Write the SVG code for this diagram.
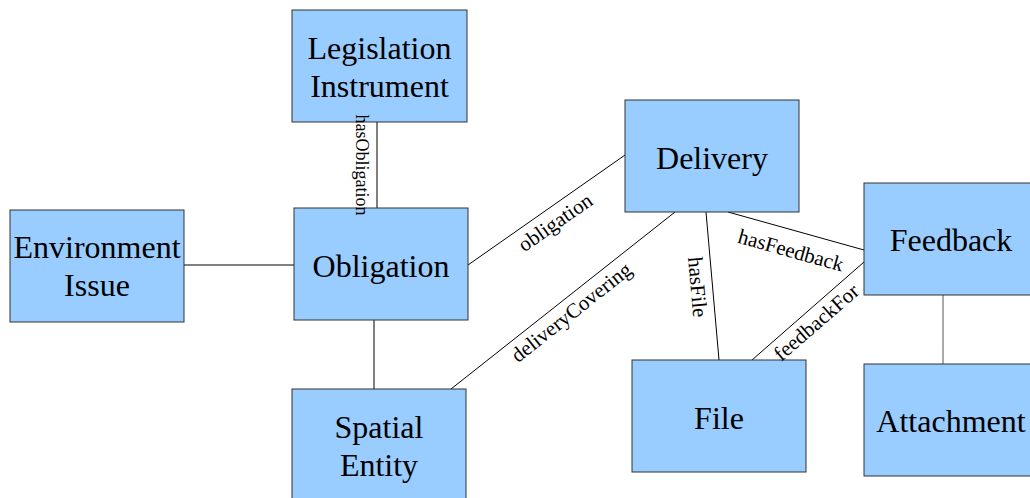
<svg xmlns="http://www.w3.org/2000/svg" width="1030" height="498" viewBox="0 0 1030 498">
<style>
.node rect{fill:#99ccff;stroke:#333;stroke-width:1}
.node text{font-family:"Liberation Serif",serif;font-size:32px;fill:#000;text-anchor:middle}
.edges line{stroke:#000;stroke-width:1}
.lbl{font-family:"Liberation Serif",serif;font-size:21px;fill:#000;text-anchor:middle}
</style>
<rect width="1030" height="498" fill="#fff"/>
<g id="connectors" class="edges">
<line x1="377" y1="122" x2="377" y2="208"/>
<line x1="184" y1="265" x2="294" y2="265"/>
<line x1="374" y1="320" x2="374" y2="389"/>
<line x1="468" y1="265" x2="625" y2="155"/>
<line x1="675" y1="212" x2="451" y2="389"/>
<line x1="706" y1="212" x2="719" y2="360"/>
<line x1="728" y1="212" x2="864" y2="250"/>
<line x1="752" y1="360" x2="864" y2="262"/>
<line x1="943" y1="295" x2="943" y2="364" style="stroke:#555"/>
</g>
<g id="legislation" class="node"><rect x="292" y="10" width="175" height="112"/><text x="379.5" y="59">Legislation</text><text x="379.5" y="97">Instrument</text></g>
<g id="obligation" class="node"><rect x="294" y="208" width="174" height="112"/><text x="381" y="277">Obligation</text></g>
<g id="environment" class="node"><rect x="10" y="210" width="174" height="112"/><text x="97" y="258">Environment</text><text x="97" y="296">Issue</text></g>
<g id="spatial" class="node"><rect x="292" y="389" width="174" height="112"/><text x="379" y="438">Spatial</text><text x="379" y="476">Entity</text></g>
<g id="delivery" class="node"><rect x="625" y="100" width="174" height="112"/><text x="712" y="169">Delivery</text></g>
<g id="feedback" class="node"><rect x="864" y="183" width="174" height="112"/><text x="951" y="251">Feedback</text></g>
<g id="file" class="node"><rect x="632" y="360" width="174" height="112"/><text x="719" y="429">File</text></g>
<g id="attachment" class="node"><rect x="864" y="364" width="174" height="112"/><text x="951" y="432">Attachment</text></g>
<g id="connector-labels">
<text class="lbl" transform="translate(362,165) rotate(90)" dy="0.35em" style="font-size:18px">hasObligation</text>
<text class="lbl" transform="translate(555,222) rotate(-35)" dy="0.35em">obligation</text>
<text class="lbl" transform="translate(571,312) rotate(-38.3)" dy="0.35em">deliveryCovering</text>
<text class="lbl" transform="translate(698,287) rotate(85)" dy="0.35em">hasFile</text>
<text class="lbl" transform="translate(791,250) rotate(15.6)" dy="0.35em">hasFeedback</text>
<text class="lbl" transform="translate(816,322) rotate(-40.9)" dy="0.35em">feedbackFor</text>
</g>
</svg>
